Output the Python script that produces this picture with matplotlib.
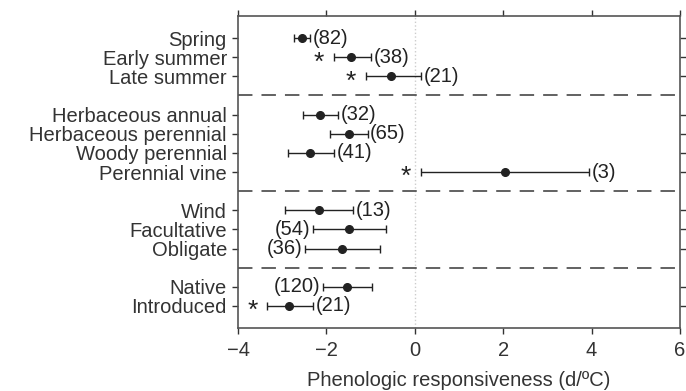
import numpy as np
import matplotlib
matplotlib.use("Agg")
import matplotlib.pyplot as plt

plt.rcParams['font.family'] = ['Liberation Sans', 'DejaVu Sans']

# data, top to bottom
labels = ["Spring", "Early summer", "Late summer",
          "Herbaceous annual", "Herbaceous perennial", "Woody perennial", "Perennial vine",
          "Wind", "Facultative", "Obligate",
          "Native", "Introduced"]
rows = [0, 1, 2, 4, 5, 6, 7, 9, 10, 11, 13, 14]
means = [-2.56, -1.44, -0.54, -2.14, -1.50, -2.38, 2.04, -2.16, -1.50, -1.65, -1.53, -2.85]
lows = [-2.73, -1.83, -1.11, -2.52, -1.92, -2.88, 0.14, -2.93, -2.31, -2.49, -2.07, -3.34]
highs = [-2.36, -1.00, 0.15, -1.74, -1.07, -1.82, 3.94, -1.39, -0.65, -0.79, -0.96, -2.31]
counts = [82, 38, 21, 32, 65, 41, 3, 13, 54, 36, 120, 21]
count_left = [False, False, False, False, False, False, False, False, True, True, True, False]
signif = [False, True, True, False, False, False, True, False, False, False, False, True]
group_breaks = [3, 8, 12]

means = np.array(means)
lows = np.array(lows)
highs = np.array(highs)
rows = np.array(rows)

fs = 14.5

fig = plt.figure(figsize=(6.86, 3.91), dpi=100)
ax = fig.add_axes([238/686, 1 - 328/391, 442/686, 312/391])

ax.axvline(0, color='#cccccc', lw=1, ls=':', zorder=0)
for b in group_breaks:
    ax.axhline(b, color='#555555', lw=1.3, ls=(0, (8, 5)), zorder=1)

ax.errorbar(means, rows, xerr=[means - lows, highs - means], fmt='o', color='#222222',
            ms=5.5, elinewidth=1, capsize=3, capthick=1, zorder=3)

for i in range(len(rows)):
    txt = "(%d)" % counts[i]
    if count_left[i]:
        ax.text(lows[i] - 0.06, rows[i], txt, ha='right', va='center', fontsize=fs, color='#222222')
    else:
        ax.text(highs[i] + 0.06, rows[i], txt, ha='left', va='center', fontsize=fs, color='#222222')
    if signif[i]:
        ax.text(lows[i] - 0.22, rows[i] + 0.64, "*", ha='right', va='baseline', fontsize=19, color='#222222')

ax.set_xlim(-4, 6)
ax.set_ylim(15.15, -1.15)
ax.set_xticks([-4, -2, 0, 2, 4, 6])
ax.set_xticklabels(["\u22124", "\u22122", "0", "2", "4", "6"])
ax.set_yticks(rows)
ax.set_yticklabels(labels)
ax.tick_params(axis='both', labelsize=fs, colors='#333333', length=4, width=1,
               top=True, right=True, labeltop=False, labelright=False)
ax.tick_params(axis='x', pad=5)
ax.tick_params(axis='y', pad=4)
for s in ax.spines.values():
    s.set_color('#555555')
    s.set_linewidth(1.2)

ax.set_xlabel("Phenologic responsiveness (d/\u00baC)", fontsize=fs, color='#333333', labelpad=8)

plt.savefig("out.png", dpi=100)
